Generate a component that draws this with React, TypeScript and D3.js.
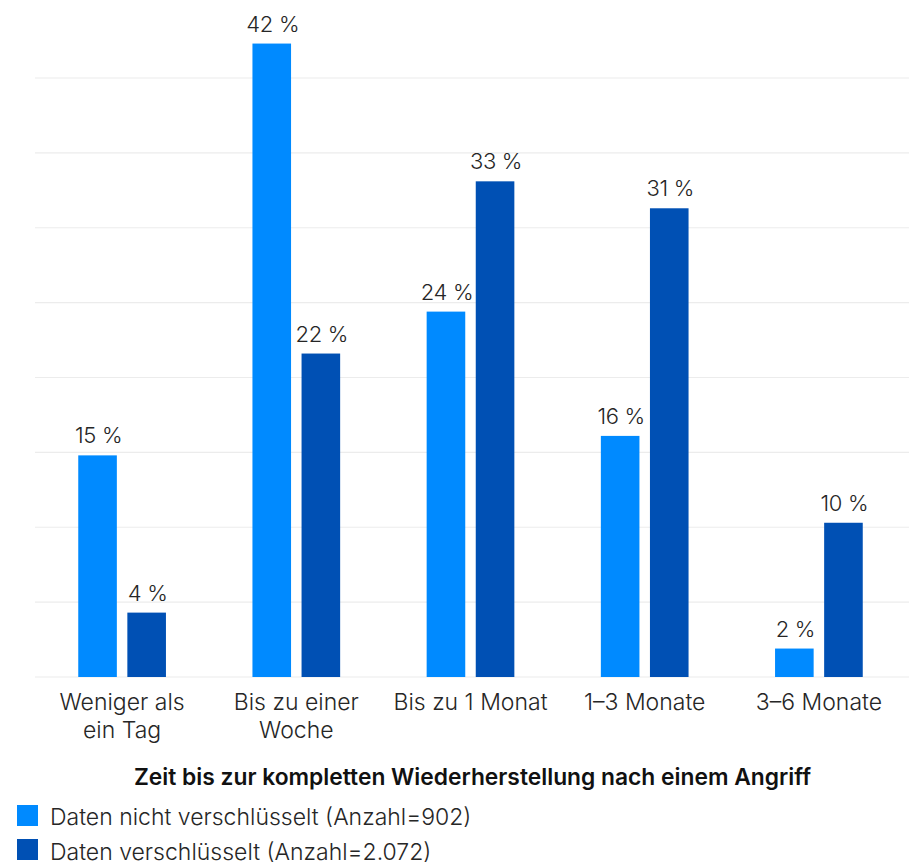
import React from "react";
import * as d3 from "d3";

const categories: string[][] = [
  ["Weniger als", "ein Tag"],
  ["Bis zu einer", "Woche"],
  ["Bis zu 1 Monat"],
  ["1–3 Monate"],
  ["3–6 Monate"],
];
const seriesNames = ["Daten nicht verschlüsselt (Anzahl=902)", "Daten verschlüsselt (Anzahl=2.072)"];
const notEncrypted = [14.8, 42.3, 24.4, 16.1, 1.9];
const encrypted = [4.3, 21.6, 33.1, 31.3, 10.3];
const yTicks = [0, 5, 10, 15, 20, 25, 30, 35, 40];
const title = "Zeit bis zur kompletten Wiederherstellung nach einem Angriff";

const colors = ["#008aff", "#0050b4"];
const FONT = "Inter, 'Noto Sans', sans-serif";
const TEXT = "#262626";

export default function App() {
  const W = 909, H = 867;
  const x0 = 35, x1 = 906;
  const y0 = 677;
  const x = d3.scaleBand<number>().domain(d3.range(categories.length)).range([x0, x1]).paddingInner(0).paddingOuter(0);
  const y = d3.scaleLinear().domain([0, 40]).range([y0, 78]);
  const barW = 38.6, gap = 10.5;
  const series = [notEncrypted, encrypted];
  return (
    <svg width={W} height={H} style={{ position: "absolute", left: 0, top: 0, fontFamily: FONT }}>
      <rect width={W} height={H} fill="#fff" />
      {yTicks.map((t) => (
        <line key={t} x1={x0} x2={W} y1={y(t)} y2={y(t)} stroke="#ececec" strokeWidth={1.2} />
      ))}
      {categories.map((c, i) => {
        const cx = x(i)! + x.bandwidth() / 2;
        return (
          <g key={i}>
            {series.map((s, k) => {
              const bx = cx - gap / 2 - barW + k * (barW + gap);
              const v = s[i];
              return (
                <g key={k}>
                  <rect x={bx} y={y(v)} width={barW} height={y0 - y(v)} fill={colors[k]} />
                  <text x={bx + barW / 2 + 1} y={y(v) - 12} textAnchor="middle" fontSize={22} fontWeight={300} fill={TEXT} letterSpacing={-0.3}>
                    {Math.round(v)} %
                  </text>
                </g>
              );
            })}
            {c.map((line, j) => (
              <text key={j} x={cx} y={710 + j * 28} textAnchor="middle" fontSize={23} fontWeight={300} fill={TEXT}>
                {line}
              </text>
            ))}
          </g>
        );
      })}
      <text x={(x0 + x1) / 2 + 2} y={785} textAnchor="middle" fontSize={22.8} fontWeight={600} fill="#111">
        {title}
      </text>
      {seriesNames.map((n, k) => (
        <g key={k}>
          <rect x={17} y={805 + k * 34} width={21} height={21} fill={colors[k]} />
          <text x={50} y={825 + k * 35} fontSize={23} fontWeight={300} fill={TEXT}>
            {n}
          </text>
        </g>
      ))}
    </svg>
  );
}
